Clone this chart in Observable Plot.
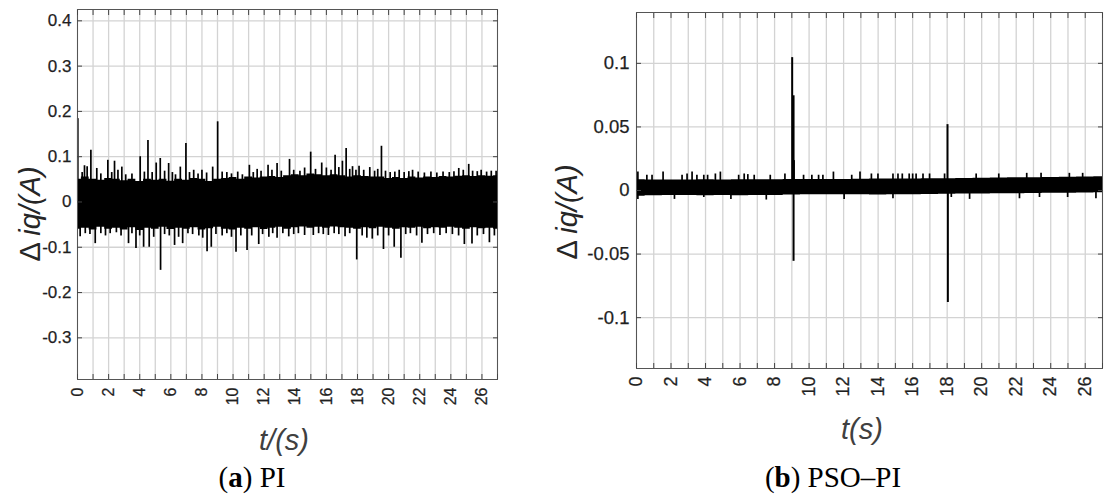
<!DOCTYPE html>
<html><head><meta charset="utf-8">
<script src="https://cdn.jsdelivr.net/npm/d3@7"></script>
<script src="https://cdn.jsdelivr.net/npm/@observablehq/plot@0.6"></script>
<style>
body{margin:0;background:#fff;}
#wrap{position:relative;width:1111px;height:499px;overflow:hidden;font-family:"Liberation Sans",Arial,sans-serif;background:#fff;}
.p{position:absolute;top:0;}
#wrap svg text{font-family:"Liberation Sans",Arial,sans-serif !important;fill:#1f1f1f;stroke:#1f1f1f;stroke-width:0.25px;}
#pa g[aria-label="x-axis tick label"] text{font-size:16px !important;}
#pa g[aria-label="y-axis tick label"] text{font-size:17px !important;}
#pb g[aria-label="x-axis tick label"] text{font-size:18px !important;}
#pb g[aria-label="y-axis tick label"] text{font-size:18.5px !important;}
.ylab{position:absolute;transform:translate(-50%,-50%) rotate(-90deg);white-space:nowrap;font-size:29px;color:#262626;}
.xlab{position:absolute;transform:translate(-50%,-50%);white-space:nowrap;font-size:29px;font-style:italic;color:#404040;}
.cap{position:absolute;transform:translate(-50%,-50%);white-space:nowrap;font-family:"Liberation Serif",serif;font-size:29px;color:#000;}
</style></head>
<body><div id="wrap">
<div class="p" id="pa" style="left:0"></div>
<div class="p" id="pb" style="left:540px"></div>
<div class="ylab" style="left:30px;top:214px">Δ <i>iq/(A)</i></div>
<div class="ylab" style="left:567px;top:212px">Δ <i>iq/(A)</i></div>
<div class="xlab" style="left:284px;top:440px">t/(s)</div>
<div class="xlab" style="left:862px;top:429px">t(s)</div>
<div class="cap" style="left:252px;top:477px">(<b>a</b>) PI</div>
<div class="cap" style="left:833px;top:477px">(<b>b</b>) PSO–PI</div>
</div>
<script>
// ---- shared axis ticks ----
const xGridTicks = [0,1,2,3,4,5,6,7,8,9,10,11,12,13,14,15,16,17,18,19,20,21,22,23,24,25,26,27];
const xLabelTicks = [0,2,4,6,8,10,12,14,16,18,20,22,24,26];

// ---- panel (a) PI ----
const yTicksA = [-0.3,-0.2,-0.1,0,0.1,0.2,0.3,0.4];
const yDomainA = [-0.392, 0.425];
const bandTA = [0,0.5,1,1.5,2,2.5,3,3.5,4,4.5,5,5.5,6,6.5,7,7.5,8,8.5,9,9.5,10,10.5,11,11.5,12,12.5,13,13.5,14,14.5,15,15.5,16,16.5,17,17.5,18,18.5,19,19.5,20,20.5,21,21.5,22,22.5,23,23.5,24,24.5,25,25.5,26,26.5,27];
const hiA = [0.05,0.055,0.05,0.048,0.052,0.05,0.047,0.05,0.045,0.05,0.048,0.05,0.046,0.05,0.048,0.052,0.05,0.045,0.05,0.052,0.054,0.05,0.055,0.053,0.055,0.056,0.054,0.058,0.06,0.058,0.062,0.06,0.058,0.06,0.058,0.055,0.058,0.056,0.055,0.055,0.052,0.054,0.052,0.055,0.053,0.055,0.054,0.056,0.055,0.057,0.058,0.056,0.058,0.057,0.058];
const loA = [-0.06,-0.058,-0.062,-0.056,-0.06,-0.058,-0.062,-0.057,-0.063,-0.058,-0.06,-0.056,-0.061,-0.058,-0.06,-0.057,-0.062,-0.059,-0.056,-0.06,-0.062,-0.058,-0.06,-0.057,-0.061,-0.058,-0.056,-0.06,-0.057,-0.055,-0.058,-0.056,-0.058,-0.055,-0.057,-0.058,-0.06,-0.057,-0.059,-0.056,-0.058,-0.06,-0.057,-0.058,-0.056,-0.059,-0.057,-0.058,-0.056,-0.058,-0.06,-0.057,-0.059,-0.058,-0.06];
const upA = [[0.02,0.184],[0.3,0.065],[0.45,0.08],[0.62,0.078],[0.86,0.114],[1.24,0.074],[1.5,0.062],[1.95,0.092],[2.2,0.065],[2.38,0.09],[2.6,0.07],[2.85,0.077],[3.1,0.06],[3.5,0.062],[4.03,0.1],[4.3,0.066],[4.53,0.136],[4.8,0.065],[5.06,0.086],[5.32,0.096],[5.6,0.068],[5.86,0.085],[6.1,0.065],[6.3,0.06],[6.61,0.077],[6.97,0.129],[7.2,0.065],[7.47,0.07],[7.75,0.062],[8.0,0.07],[8.3,0.064],[8.69,0.077],[9.01,0.177],[9.3,0.066],[9.6,0.065],[9.9,0.062],[10.3,0.066],[10.6,0.06],[11.05,0.081],[11.3,0.065],[11.55,0.072],[11.8,0.068],[12.25,0.081],[12.5,0.07],[12.83,0.085],[13.1,0.068],[13.63,0.094],[13.9,0.07],[14.3,0.068],[14.6,0.075],[14.99,0.11],[15.3,0.072],[15.7,0.086],[16.0,0.075],[16.3,0.07],[16.56,0.103],[16.8,0.076],[17.03,0.09],[17.27,0.118],[17.5,0.072],[17.68,0.078],[17.9,0.07],[18.1,0.079],[18.4,0.07],[18.79,0.076],[19.1,0.068],[19.3,0.072],[19.54,0.123],[19.8,0.068],[20.1,0.065],[20.4,0.066],[20.68,0.07],[21.0,0.065],[21.3,0.067],[21.54,0.07],[21.9,0.066],[22.3,0.064],[22.72,0.066],[23.1,0.064],[23.5,0.066],[23.9,0.065],[24.2,0.067],[24.51,0.074],[24.8,0.07],[25.15,0.083],[25.4,0.068],[25.7,0.067],[25.95,0.07],[26.3,0.066],[26.6,0.068],[26.91,0.068]];
const downA = [[0.17,-0.077],[0.5,-0.07],[0.8,-0.072],[1.14,-0.092],[1.5,-0.07],[1.8,-0.075],[2.1,-0.07],[2.5,-0.068],[2.8,-0.075],[3.28,-0.092],[3.5,-0.07],[3.76,-0.103],[4.0,-0.075],[4.25,-0.1],[4.61,-0.1],[4.9,-0.078],[5.34,-0.151],[5.6,-0.072],[5.9,-0.075],[6.24,-0.096],[6.5,-0.078],[6.76,-0.092],[7.1,-0.07],[7.4,-0.072],[7.8,-0.075],[8.05,-0.08],[8.33,-0.11],[8.6,-0.1],[8.9,-0.072],[9.3,-0.075],[9.6,-0.07],[9.9,-0.078],[10.19,-0.111],[10.5,-0.075],[10.9,-0.107],[11.2,-0.075],[11.65,-0.094],[11.9,-0.072],[12.3,-0.078],[12.55,-0.07],[12.83,-0.08],[13.2,-0.07],[13.58,-0.077],[13.9,-0.072],[14.2,-0.07],[14.6,-0.074],[15.16,-0.074],[15.5,-0.07],[15.8,-0.072],[16.13,-0.074],[16.5,-0.07],[16.8,-0.072],[17.2,-0.077],[17.5,-0.07],[17.95,-0.128],[18.3,-0.075],[18.6,-0.08],[18.95,-0.082],[19.3,-0.075],[19.67,-0.105],[20.0,-0.075],[20.36,-0.1],[20.79,-0.124],[21.1,-0.072],[21.4,-0.07],[21.8,-0.075],[22.14,-0.091],[22.5,-0.072],[22.9,-0.07],[23.3,-0.074],[23.7,-0.07],[24.1,-0.072],[24.5,-0.075],[24.87,-0.094],[25.36,-0.093],[25.7,-0.075],[26.1,-0.072],[26.48,-0.09],[26.8,-0.075]];
const bigA = [];

// ---- panel (b) PSO-PI ----
const yTicksB = [-0.1,-0.05,0,0.05,0.1];
const yDomainB = [-0.14, 0.14];
const bandTB = [0,1,2,3,4,5,6,7,8,9,10,11,12,13,14,15,16,17,18,19,20,21,22,23,24,25,26,27];
const hiB = [0.0085,0.0083,0.0082,0.0083,0.0084,0.0083,0.0084,0.0085,0.0084,0.0086,0.0086,0.0087,0.0087,0.0088,0.009,0.009,0.0091,0.0092,0.0093,0.0095,0.0096,0.0098,0.01,0.0101,0.0103,0.0104,0.0106,0.0108];
const loB = [-0.0045,-0.0042,-0.004,-0.004,-0.0041,-0.004,-0.0041,-0.004,-0.004,-0.0035,-0.0034,-0.0034,-0.0034,-0.0034,-0.0035,-0.0034,-0.0033,-0.0032,-0.003,-0.0028,-0.0027,-0.0026,-0.0025,-0.0024,-0.0022,-0.0021,-0.002,-0.0018];
const upB = [[0.08,0.0145],[0.6,0.012],[0.9,0.012],[1.54,0.0145],[2.64,0.012],[2.93,0.013],[3.22,0.0145],[3.5,0.012],[3.9,0.012],[4.12,0.012],[4.57,0.013],[4.86,0.0145],[5.92,0.012],[6.24,0.013],[6.45,0.0125],[6.82,0.012],[7.75,0.012],[8.6,0.013],[9.68,0.012],[10.16,0.012],[10.55,0.012],[10.8,0.012],[11.41,0.0145],[12.47,0.012],[12.95,0.0145],[13.61,0.013],[13.99,0.013],[14.86,0.013],[15.15,0.013],[15.4,0.013],[15.8,0.013],[16.0,0.013],[16.2,0.013],[16.6,0.013],[16.98,0.013],[17.85,0.013],[19.68,0.013],[20.99,0.013],[22.61,0.0135],[23.44,0.0135],[25.08,0.0135],[25.85,0.0135]];
const downB = [[0.08,-0.007],[2.2,-0.007],[3.9,-0.0055],[5.47,-0.007],[7.52,-0.0075],[12.03,-0.007],[14.86,-0.0065],[18.24,-0.0055],[19.3,-0.007],[22.19,-0.0065],[23.35,-0.0055],[24.98,-0.0055],[26.62,-0.0065]];
const bigB = [[9.02,0.1045],[9.1,0.0745],[9.12,0.0235],[9.1,-0.0557],[18.02,0.0518],[18.04,-0.0881]];

function panel(o) {
  const band = o.bandT.map((t, i) => ({t, hi: o.hi[i], lo: o.lo[i]}));
  const fmt = d => String(d);
  return Plot.plot({
    width: o.width, height: o.height,
    marginLeft: o.ml, marginRight: o.mr, marginTop: o.mt, marginBottom: o.mb,
    style: {fontFamily: "Liberation Sans, Arial, sans-serif", fontSize: "16px", color: "#262626", background: "white", overflow: "visible"},
    x: {domain: [0, 27], label: null},
    y: {domain: o.yDomain, label: null},
    marks: [
      Plot.gridX(xGridTicks, {stroke: "#d3d3d3", strokeOpacity: 1, strokeWidth: 1.3}),
      Plot.gridY(o.yTicks, {stroke: "#d3d3d3", strokeOpacity: 1, strokeWidth: 1.3}),
      Plot.areaY(band, {x: "t", y1: "lo", y2: "hi", curve: "step", fill: "black"}),
      Plot.ruleX(o.up, {x: d => d[0], y1: 0, y2: d => d[1], stroke: "black", strokeWidth: 1.7}),
      Plot.ruleX(o.down, {x: d => d[0], y1: 0, y2: d => d[1], stroke: "black", strokeWidth: 1.7}),
      Plot.ruleX(o.big, {x: d => d[0], y1: 0, y2: d => d[1], stroke: "black", strokeWidth: 2}),
      Plot.frame({stroke: "#555", strokeWidth: 1}),
      Plot.axisX(xGridTicks, {anchor: "bottom", tickSize: -5, tickFormat: () => "", label: null, stroke: "#444"}),
      Plot.axisX(xGridTicks, {anchor: "top", tickSize: -5, tickFormat: () => "", label: null, stroke: "#444"}),
      Plot.axisY(o.yTicks, {anchor: "left", tickSize: -5, tickFormat: () => "", label: null, stroke: "#444"}),
      Plot.axisY(o.yTicks, {anchor: "right", tickSize: -5, tickFormat: () => "", label: null, stroke: "#444"}),
      Plot.axisX(xLabelTicks, {anchor: "bottom", tickSize: 0, tickPadding: o.xpad, tickRotate: -90, textAnchor: "end", lineAnchor: "middle", tickFormat: fmt, label: null}),
      Plot.axisY(o.yTicks, {anchor: "left", tickSize: 0, tickPadding: o.ypad, tickFormat: fmt, label: null})
    ]
  });
}

document.getElementById("pa").append(panel({
  bandT: bandTA, hi: hiA, lo: loA, up: upA, down: downA, big: bigA,
  yDomain: yDomainA, yTicks: yTicksA,
  width: 520, height: 420, ml: 77, mr: 23, mt: 9, mb: 41, xpad: 8, ypad: 6
}));
document.getElementById("pb").append(panel({
  bandT: bandTB, hi: hiB, lo: loB, up: upB, down: downB, big: bigB,
  yDomain: yDomainB, yTicks: yTicksB,
  width: 571, height: 420, ml: 96, mr: 9, mt: 12, mb: 52, xpad: 8, ypad: 7
}));
</script>
</body></html>
